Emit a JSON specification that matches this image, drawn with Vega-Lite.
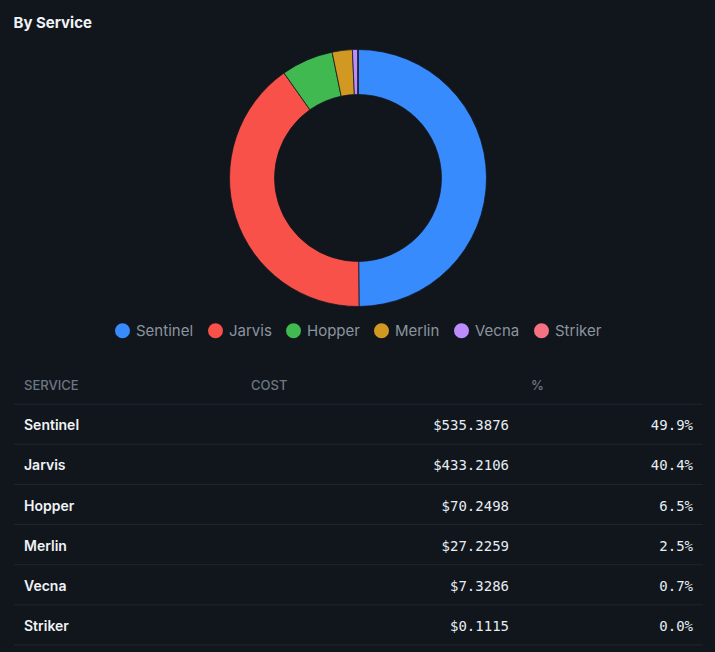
{
  "$schema": "https://vega.github.io/schema/vega-lite/v6.json",
  "background": "#11161d",
  "padding": {"top": 15, "left": 13, "right": 13, "bottom": 6},
  "title": {
    "text": "By Service",
    "anchor": "start",
    "font": "Inter",
    "fontSize": 15,
    "fontWeight": 700,
    "color": "#f0f3f6",
    "offset": 17.5
  },
  "datasets": {
    "services": [
      {"service": "Sentinel", "cost": 535.3876, "share": 0.499},
      {"service": "Jarvis", "cost": 433.2106, "share": 0.404},
      {"service": "Hopper", "cost": 70.2498, "share": 0.065},
      {"service": "Merlin", "cost": 27.2259, "share": 0.025},
      {"service": "Vecna", "cost": 7.3286, "share": 0.007},
      {"service": "Striker", "cost": 0.1115, "share": 0.0001}
    ]
  },
  "spacing": 25,
  "resolve": {"scale": {"color": "independent"}, "legend": {"color": "independent"}},
  "vconcat": [
    {
      "width": 688,
      "height": 256,
      "data": {"name": "services"},
      "mark": {
        "type": "arc",
        "outerRadius": 128.5,
        "innerRadius": 83.5,
        "stroke": "#11161d",
        "strokeWidth": 0.75
      },
      "encoding": {
        "theta": {"field": "cost", "type": "quantitative", "stack": true},
        "order": {"field": "cost", "type": "quantitative", "sort": "descending"},
        "color": {
          "field": "service",
          "type": "nominal",
          "scale": {
            "domain": ["Sentinel", "Jarvis", "Hopper", "Merlin", "Vecna", "Striker"],
            "range": ["#388bfd", "#f85149", "#3fb950", "#d29922", "#bc8cff", "#f47282"]
          },
          "legend": {
            "title": null,
            "orient": "bottom",
            "direction": "horizontal",
            "offset": 17,
            "padding": 0,
            "symbolType": "circle",
            "symbolSize": 225,
            "symbolStrokeWidth": 0,
            "symbolOpacity": 1,
            "labelFont": "Inter",
            "labelFontSize": 15,
            "labelColor": "#8b949e",
            "labelOffset": 6,
            "columnPadding": 14
          }
        }
      }
    },
    {
      "spacing": 0,
      "bounds": "flush",
      "hconcat": [
        {
          "width": 227,
          "height": 281,
          "layer": [
            {
              "data": {"name": "services"},
              "mark": {"type": "rule", "color": "#21262d", "strokeWidth": 1},
              "encoding": {
                "y": {
                  "field": "service",
                  "type": "nominal",
                  "bandPosition": 1,
                  "scale": {"type": "band", "domain": ["head", "Sentinel", "Jarvis", "Hopper", "Merlin", "Vecna", "Striker"], "paddingInner": 0, "paddingOuter": 0},
                  "axis": null
                }
              }
            },
            {
              "data": {"values": [{"label": "SERVICE"}]},
              "layer": [
                {
                  "mark": {"type": "rule", "color": "#21262d", "strokeWidth": 1},
                  "encoding": {"y": {"datum": "head", "type": "nominal", "bandPosition": 1}}
                },
                {
                  "mark": {"type": "text", "align": "left", "baseline": "middle", "dx": 10, "dy": 2, "font": "Inter", "fontSize": 13, "fontWeight": 500, "color": "#6e7681"},
                  "encoding": {
                    "x": {"datum": "SERVICE", "type": "nominal", "bandPosition": 0, "scale": {"type": "band", "paddingInner": 0, "paddingOuter": 0}, "axis": null},
                    "y": {"datum": "head", "type": "nominal"},
                    "text": {"field": "label"}
                  }
                }
              ]
            },
            {
              "data": {"name": "services"},
              "mark": {"type": "text", "align": "left", "baseline": "middle", "dx": 10, "dy": 2, "font": "Inter", "fontSize": 14, "fontWeight": 600, "color": "#f0f3f6"},
              "encoding": {
                "x": {"datum": "SERVICE", "type": "nominal", "bandPosition": 0},
                "y": {"field": "service", "type": "nominal"},
                "text": {"field": "service"}
              }
            }
          ]
        },
        {
          "width": 278,
          "height": 281,
          "layer": [
            {
              "data": {"name": "services"},
              "mark": {"type": "rule", "color": "#21262d", "strokeWidth": 1},
              "encoding": {
                "y": {
                  "field": "service",
                  "type": "nominal",
                  "bandPosition": 1,
                  "scale": {"type": "band", "domain": ["head", "Sentinel", "Jarvis", "Hopper", "Merlin", "Vecna", "Striker"], "paddingInner": 0, "paddingOuter": 0},
                  "axis": null
                }
              }
            },
            {
              "data": {"values": [{"label": "COST"}]},
              "layer": [
                {
                  "mark": {"type": "rule", "color": "#21262d", "strokeWidth": 1},
                  "encoding": {"y": {"datum": "head", "type": "nominal", "bandPosition": 1}}
                },
                {
                  "mark": {"type": "text", "align": "left", "baseline": "middle", "dx": 10, "dy": 2, "font": "Inter", "fontSize": 13, "fontWeight": 500, "color": "#6e7681"},
                  "encoding": {
                    "x": {"datum": "COST", "type": "nominal", "bandPosition": 0, "scale": {"type": "band", "paddingInner": 0, "paddingOuter": 0}, "axis": null},
                    "y": {"datum": "head", "type": "nominal"},
                    "text": {"field": "label"}
                  }
                }
              ]
            },
            {
              "data": {"name": "services"},
              "mark": {"type": "text", "align": "right", "baseline": "middle", "dx": -10, "dy": 2, "font": "DejaVu Sans Mono", "fontSize": 14, "color": "#e6edf3"},
              "encoding": {
                "x": {"datum": "COST", "type": "nominal", "bandPosition": 1},
                "y": {"field": "service", "type": "nominal"},
                "text": {"field": "cost", "type": "quantitative", "format": "$.4f"}
              }
            }
          ]
        },
        {
          "width": 184,
          "height": 281,
          "layer": [
            {
              "data": {"name": "services"},
              "mark": {"type": "rule", "color": "#21262d", "strokeWidth": 1},
              "encoding": {
                "y": {
                  "field": "service",
                  "type": "nominal",
                  "bandPosition": 1,
                  "scale": {"type": "band", "domain": ["head", "Sentinel", "Jarvis", "Hopper", "Merlin", "Vecna", "Striker"], "paddingInner": 0, "paddingOuter": 0},
                  "axis": null
                }
              }
            },
            {
              "data": {"values": [{"label": "%"}]},
              "layer": [
                {
                  "mark": {"type": "rule", "color": "#21262d", "strokeWidth": 1},
                  "encoding": {"y": {"datum": "head", "type": "nominal", "bandPosition": 1}}
                },
                {
                  "mark": {"type": "text", "align": "left", "baseline": "middle", "dx": 12, "dy": 2, "font": "Inter", "fontSize": 13, "fontWeight": 500, "color": "#6e7681"},
                  "encoding": {
                    "x": {"datum": "%", "type": "nominal", "bandPosition": 0, "scale": {"type": "band", "paddingInner": 0, "paddingOuter": 0}, "axis": null},
                    "y": {"datum": "head", "type": "nominal"},
                    "text": {"field": "label"}
                  }
                }
              ]
            },
            {
              "data": {"name": "services"},
              "mark": {"type": "text", "align": "right", "baseline": "middle", "dx": -10, "dy": 2, "font": "DejaVu Sans Mono", "fontSize": 14, "color": "#e6edf3"},
              "encoding": {
                "x": {"datum": "%", "type": "nominal", "bandPosition": 1},
                "y": {"field": "service", "type": "nominal"},
                "text": {"field": "share", "type": "quantitative", "format": ".1%"}
              }
            }
          ]
        }
      ]
    }
  ],
  "config": {
    "view": {"stroke": null},
    "legend": {"layout": {"bottom": {"anchor": "middle"}}}
  }
}
